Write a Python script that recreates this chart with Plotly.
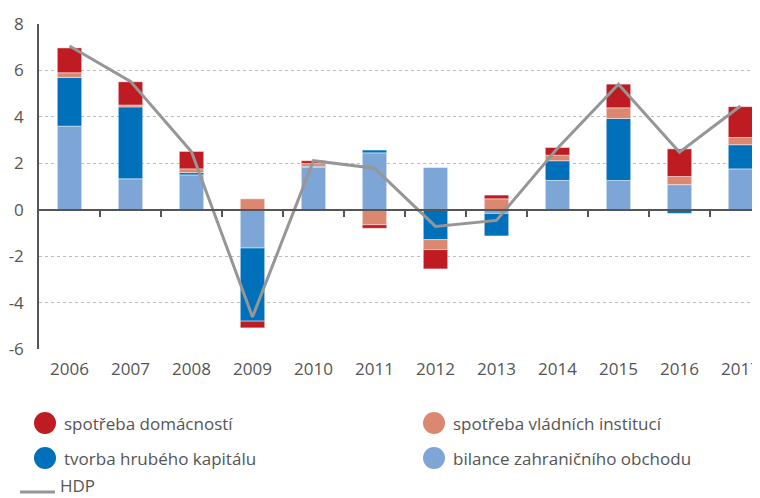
import plotly.graph_objects as go

years = ["2006", "2007", "2008", "2009", "2010", "2011", "2012", "2013", "2014", "2015", "2016", "2017"]
spotreba_domacnosti = [1.07, 1.00, 0.75, -0.29, 0.12, -0.15, -0.83, 0.16, 0.33, 1.02, 1.19, 1.33]
spotreba_vladnich = [0.20, 0.08, 0.16, 0.47, 0.12, -0.65, -0.43, 0.47, 0.24, 0.46, 0.35, 0.31]
tvorba_kapitalu = [2.10, 3.10, 0.10, -3.15, 0.05, 0.12, -1.29, -0.97, 0.85, 2.67, -0.16, 1.04]
bilance_obchodu = [3.60, 1.33, 1.50, -1.65, 1.82, 2.45, 1.82, -0.16, 1.26, 1.26, 1.08, 1.76]
hdp = [7.05, 5.53, 2.50, -4.62, 2.11, 1.79, -0.72, -0.46, 2.65, 5.41, 2.48, 4.47]

y_ticks = [-6, -4, -2, 0, 2, 4, 6, 8]
y_tick_labels = ["-6", "-4", "-2", "0", "2", "4", "6", "8"]

names = ["spotřeba domácností", "spotřeba vládních institucí",
         "tvorba hrubého kapitálu", "bilance zahraničního obchodu", "HDP"]
colors = ["#BE1B22", "#DC8870", "#0070BA", "#7DA6D7", "#969696"]

# page body has an 8px default margin; work in page pixels and offset
OFF = 8
W, H = 760 - OFF, 498 - OFF
L, R, T, B = 39 - OFF, 0, 24 - OFF, 149
y_range = [-6, 8]
x_range = [-0.5, 11.32]

fig = go.Figure()
edge = dict(color="rgba(255,255,255,0.45)", width=1)
for vals, nm, col in [(bilance_obchodu, names[3], colors[3]),
                      (tvorba_kapitalu, names[2], colors[2]),
                      (spotreba_vladnich, names[1], colors[1]),
                      (spotreba_domacnosti, names[0], colors[0])]:
    fig.add_trace(go.Bar(x=years, y=vals, name=nm, marker=dict(color=col, line=edge),
                         width=0.4, showlegend=False))

fig.add_trace(go.Scatter(x=years, y=hdp, name=names[4], mode="lines",
                         line=dict(color=colors[4], width=3), showlegend=False))

font = dict(family="Open Sans", size=17, color="#555555")

fig.update_layout(
    width=W, height=H,
    margin=dict(l=L, r=R, t=T, b=B, autoexpand=False),
    paper_bgcolor="white", plot_bgcolor="white",
    barmode="relative",
    font=font,
    showlegend=False,
    xaxis=dict(type="category", range=x_range, showline=False, ticks="",
               showgrid=False, zeroline=False, tickfont=font, ticklabelstandoff=8,
               automargin=False),
    xaxis2=dict(type="linear", range=x_range, overlaying="x", anchor="free",
                position=(0 - y_range[0]) / (y_range[1] - y_range[0]),
                showline=True, linecolor="#555555", linewidth=2,
                ticks="outside", ticklen=6, tickwidth=1.5, tickcolor="#555555",
                tickvals=[i + 0.5 for i in range(11)], showticklabels=False,
                showgrid=False, zeroline=False),
    yaxis=dict(range=y_range, tickvals=y_ticks, ticktext=y_tick_labels,
               showline=True, linecolor="#555555", linewidth=1.5,
               showgrid=True, gridcolor="#BBBBBB", griddash="dot", gridwidth=1,
               zeroline=False, ticks="", tickfont=font, ticklabelstandoff=10,
               automargin=False),
)

fig.add_trace(go.Scatter(x=[0], y=[0], xaxis="x2", mode="markers",
                         marker=dict(opacity=0), showlegend=False, hoverinfo="skip"))

pw, ph = W - L - R, H - T - B
def px2paper(px, py):
    # px, py in page pixels
    return (px - OFF - L) / pw, (H - B - (py - OFF)) / ph

legend_items = [
    (names[0], colors[0], 45, 423),
    (names[1], colors[1], 434, 423),
    (names[2], colors[2], 45, 458),
    (names[3], colors[3], 434, 458),
]
for nm, col, cx, cy in legend_items:
    xp, yp = px2paper(cx, cy)
    fig.add_shape(type="circle", xref="paper", yref="paper",
                  xsizemode="pixel", ysizemode="pixel", xanchor=xp, yanchor=yp,
                  x0=-11, x1=11, y0=-11, y1=11,
                  fillcolor=col, line=dict(width=0))
    tx, ty = px2paper(cx + 17, cy)
    fig.add_annotation(x=tx, y=ty, xref="paper", yref="paper", text=nm,
                       showarrow=False, xanchor="left", yanchor="middle", font=font)

x0p, yp = px2paper(20, 492)
x1p, _ = px2paper(55, 492)
fig.add_shape(type="line", xref="paper", yref="paper", x0=x0p, x1=x1p, y0=yp, y1=yp,
              line=dict(color=colors[4], width=3))
tx, ty = px2paper(59, 498)
fig.add_annotation(x=tx, y=ty, xref="paper", yref="paper", text=names[4],
                   showarrow=False, xanchor="left", yanchor="bottom", borderpad=0,
                   font=font)

fig.write_html("out.html")
